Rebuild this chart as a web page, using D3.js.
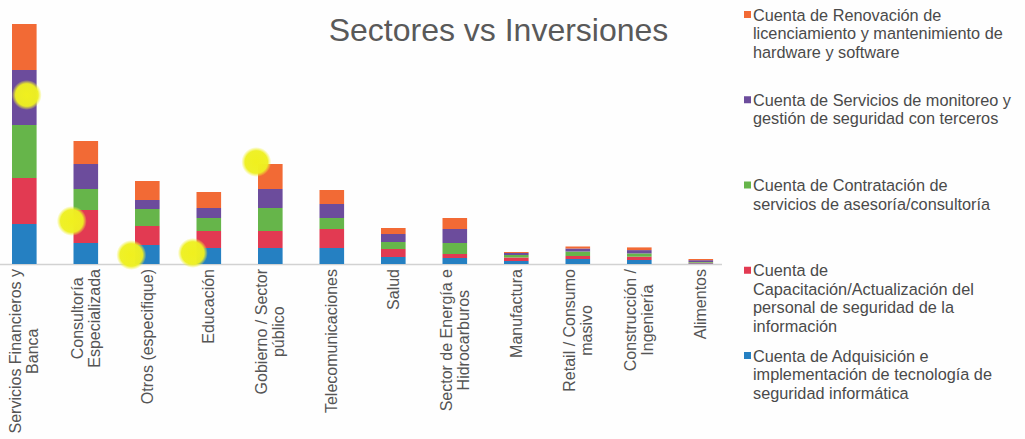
<!DOCTYPE html>
<html>
<head>
<meta charset="utf-8">
<script src="https://cdn.jsdelivr.net/npm/d3@7/dist/d3.min.js"></script>
<style>
  html, body { margin: 0; padding: 0; background: #fefefe; }
  svg { display: block; }
</style>
</head>
<body>
<svg id="chart" width="1025" height="439"></svg>
<script>
// ---------- DATA ----------
const categories = [
  "Servicios Financieros y Banca", "Consultoría Especializada", "Otros (especifique)",
  "Educación", "Gobierno / Sector público", "Telecomunicaciones", "Salud",
  "Sector de Energía e Hidrocarburos", "Manufactura", "Retail / Consumo masivo",
  "Construcción / Ingeniería", "Alimentos"
];
const categoryLabelLines = [
  ["Servicios Financieros y", "Banca"], ["Consultoría", "Especializada"], ["Otros (especifique)"],
  ["Educación"], ["Gobierno / Sector", "público"], ["Telecomunicaciones"], ["Salud"],
  ["Sector de Energía e", "Hidrocarburos"], ["Manufactura"], ["Retail / Consumo", "masivo"],
  ["Construcción /", "Ingeniería"], ["Alimentos"]
];
// series, stacked bottom -> top
const seriesNames = [
  "Cuenta de Adquisición e implementación de tecnología de seguridad informática",
  "Cuenta de Capacitación/Actualización del personal de seguridad de la información",
  "Cuenta de Contratación de servicios de asesoría/consultoría",
  "Cuenta de Servicios de monitoreo y gestión de seguridad con terceros",
  "Cuenta de Renovación de licenciamiento y mantenimiento de hardware y software"
];
const adquisicion  = [40, 21, 19, 16, 16, 16, 7, 6, 3, 5, 4, 0.6];
const capacitacion = [46, 33, 19, 17, 17, 19, 8, 4, 3.5, 3, 3.3, 0.7];
const contratacion = [53, 21, 17, 13, 23, 11, 7, 11, 2.5, 4.5, 3.3, 0.7];
const servicios    = [55, 25, 9, 10, 19, 14, 8, 14, 2, 3, 3.3, 1.8];
const renovacion   = [46, 23, 19, 16, 25, 14, 6, 11, 1, 2, 2.7, 1.2];
const seriesValues = [adquisicion, capacitacion, contratacion, servicios, renovacion];
const seriesColors = ["#2580c2", "#e23a52", "#66b54a", "#6c4c9c", "#f26a35"];
// legend (top -> bottom), wrapped as in the original
const legendLines = [
  ["Cuenta de Renovación de", "licenciamiento y mantenimiento de", "hardware y software"],
  ["Cuenta de Servicios de monitoreo y", "gestión de seguridad con terceros"],
  ["Cuenta de Contratación de", "servicios de asesoría/consultoría"],
  ["Cuenta de", "Capacitación/Actualización del", "personal de seguridad de la", "información"],
  ["Cuenta de Adquisición e", "implementación de tecnología de", "seguridad informática"]
];
const legendSeriesIndex = [4, 3, 2, 1, 0];
// yellow highlight marks drawn over the bars (category, value level, offset in px from band centre)
const highlightCats   = ["Servicios Financieros y Banca", "Consultoría Especializada", "Otros (especifique)", "Educación", "Gobierno / Sector público"];
const highlightLevels = [169, 43, 9, 11, 102];
const highlightShift  = [2.5, -14, -16, -16, -14];
const title = "Sectores vs Inversiones";

// ---------- CHART ----------
const svg = d3.select("#chart");
const font = "'Liberation Sans', Arial, sans-serif";
const baseY = 264;

const x = d3.scaleBand().domain(categories).range([-6.45, 731.55]).paddingInner(0.6).paddingOuter(0.3);
const y = d3.scaleLinear().domain([0, 241]).range([baseY, 23]);

const table = categories.map((c, i) => {
  const o = { cat: c };
  seriesValues.forEach((s, k) => o["s" + k] = s[i]);
  return o;
});
const stack = d3.stack().keys(seriesValues.map((_, k) => "s" + k))(table);

// axis line
svg.append("line")
  .attr("x1", 0).attr("x2", 722).attr("y1", baseY + 0.5).attr("y2", baseY + 0.5)
  .attr("stroke", "#d2d2d2").attr("stroke-width", 1.5);

// bars
svg.append("g").selectAll("g").data(stack).join("g")
  .attr("fill", (d, k) => seriesColors[k])
  .selectAll("rect").data(d => d).join("rect")
  .attr("x", d => x(d.data.cat))
  .attr("width", x.bandwidth())
  .attr("y", d => y(d[1]))
  .attr("height", d => y(d[0]) - y(d[1]));

// highlight blobs
const defs = svg.append("defs");
const grad = defs.append("radialGradient").attr("id", "hl");
grad.append("stop").attr("offset", "0%").attr("stop-color", "#f0f01e").attr("stop-opacity", 1);
grad.append("stop").attr("offset", "75%").attr("stop-color", "#eef022").attr("stop-opacity", 0.97);
grad.append("stop").attr("offset", "100%").attr("stop-color", "#f2f23a").attr("stop-opacity", 0);
svg.append("g").selectAll("circle").data(highlightCats).join("circle")
  .attr("cx", (c, i) => x(c) + x.bandwidth() / 2 + highlightShift[i])
  .attr("cy", (c, i) => y(highlightLevels[i]))
  .attr("r", 15)
  .attr("fill", "url(#hl)");

// category labels (rotated)
const lblG = svg.append("g");
categories.forEach((c, i) => {
  const lines = categoryLabelLines[i];
  const cx = x(c) + x.bandwidth() / 2;
  const g = lblG.append("g");
  const texts = lines.map((t, j) => g.append("text")
    .text(t)
    .attr("font-family", font).attr("font-size", 16).attr("fill", "#555")
    .attr("text-anchor", "middle"));
  const maxW = d3.max(texts, t => t.node().getComputedTextLength());
  const lh = 17;
  texts.forEach((t, j) => {
    const off = (j - (lines.length - 1) / 2) * lh;
    t.attr("transform", `translate(${cx + off + 5.5},${269 + maxW / 2}) rotate(-90)`);
  });
});

// title
svg.append("text")
  .attr("x", 498.5).attr("y", 41)
  .attr("text-anchor", "middle")
  .attr("font-family", font).attr("font-size", 32).attr("fill", "#595959")
  .text(title);

// legend
const lg = svg.append("g");
legendLines.forEach((lines, i) => {
  const y0 = 15 + i * 85.25;
  lg.append("rect")
    .attr("x", 744).attr("y", y0 - 4)
    .attr("width", 7).attr("height", 7)
    .attr("fill", seriesColors[legendSeriesIndex[i]]);
  lines.forEach((t, j) => {
    lg.append("text")
      .attr("x", 753).attr("y", y0 + j * 18.6 + 5.5)
      .attr("font-family", font).attr("font-size", 16.3).attr("fill", "#4a4a4a")
      .text(t);
  });
});
</script>
</body>
</html>
